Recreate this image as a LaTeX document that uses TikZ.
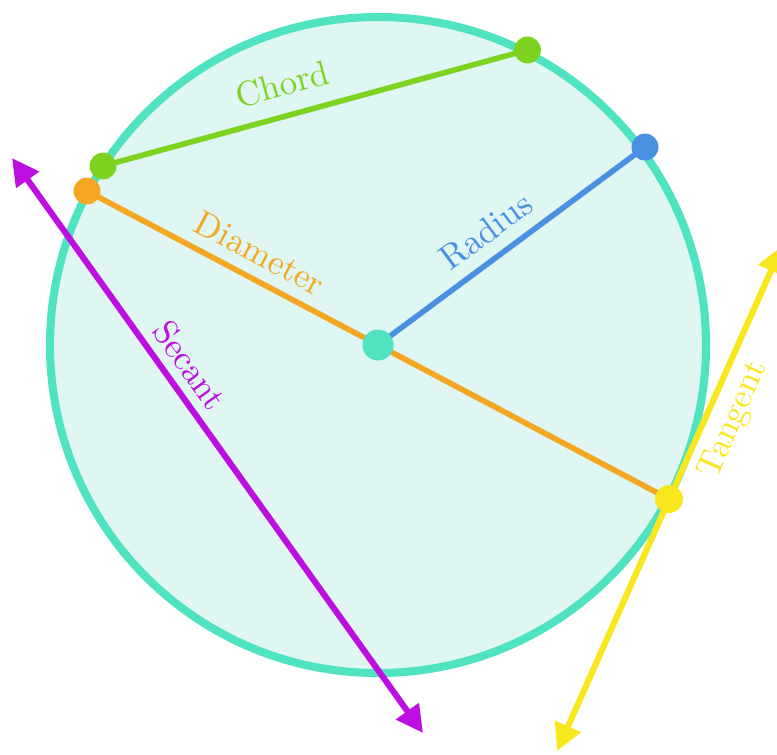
\documentclass[tikz,border=0pt]{standalone}
\usetikzlibrary{arrows.meta}
\definecolor{turq}{HTML}{50E3C2}
\definecolor{turqfill}{RGB}{223,246,242}
\definecolor{cgreen}{HTML}{7ED321}
\definecolor{corange}{HTML}{F5A623}
\definecolor{cblue}{HTML}{4A90E2}
\definecolor{cpurple}{HTML}{BD10E0}
\definecolor{cyellow}{HTML}{F8E71C}
\begin{document}
\begin{tikzpicture}[x=0.2857pt,y=-0.2857pt,
  seg/.style={line width=1.6pt},
  dot/.style={circle, fill=#1, draw=none, inner sep=0pt, minimum size=7.7pt},
  lbl/.style={text=#1, font=\fontsize{10}{12}\selectfont, inner sep=0pt},
  arr/.style={line width=1.75pt, {Triangle[length=7.7pt,width=7.7pt]}-{Triangle[length=7.7pt,width=7.7pt]}}]
\useasboundingbox (0,0) rectangle (777,754);
\clip (0,0) rectangle (777,754);
% points
\coordinate (O) at (378,345);
\coordinate (C1) at (103,166);
\coordinate (C2) at (527.5,50);
\coordinate (D1) at (87,191);
\coordinate (D2) at (669,499);
\coordinate (R) at (645,147);
\coordinate (S1) at (12,158);
\coordinate (S2) at (423,733);
\coordinate (T1) at (557,751);
\coordinate (T2) at (782,246);
% circle
\draw[turq, fill=turqfill, line width=2.3pt] (O) circle[radius=328];
% lines
\draw[arr, cpurple] (S1) -- (S2);
\draw[seg, cgreen] (C1) -- (C2);
\draw[seg, corange] (D1) -- (D2);
\draw[seg, cblue] (O) -- (R);
\draw[arr, cyellow] (T1) -- (T2);
% dots
\node[dot=turq, minimum size=8.86pt] (dO) at (O) {};
\node[dot=cgreen] (dC1) at (C1) {};
\node[dot=cgreen] (dC2) at (C2) {};
\node[dot=corange] (dD1) at (D1) {};
\node[dot=cyellow, minimum size=8pt] (dD2) at (D2) {};
\node[dot=cblue] (dR) at (R) {};
% labels
\node[lbl=cgreen, rotate=15.2] (lc) at (282,84) {Chord};
\node[lbl=corange, rotate=-27.9] (ld) at (260,253) {Diameter};
\node[lbl=cblue, rotate=36.6] (lr) at (486,231) {Radius};
\node[lbl=cpurple, rotate=-54.4] (ls) at (190,365) {Secant};
\node[lbl=cyellow, rotate=66] (lt) at (734,420) {Tangent};
\end{tikzpicture}
\end{document}
